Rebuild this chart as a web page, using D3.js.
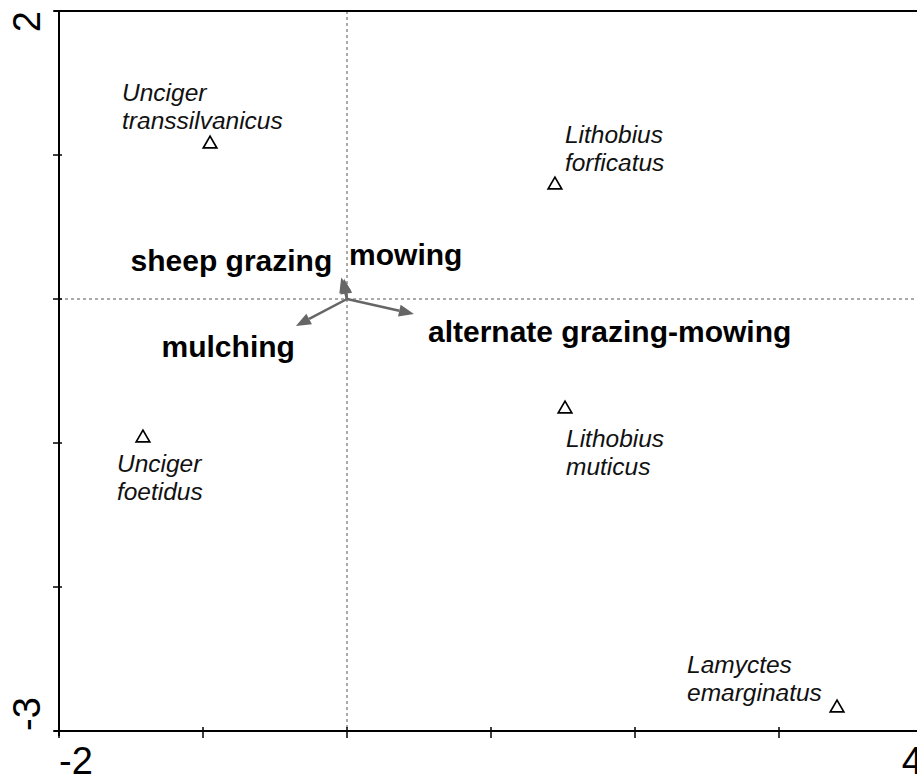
<!DOCTYPE html>
<html>
<head>
<meta charset="utf-8">
<script src="https://cdn.jsdelivr.net/npm/d3@7"></script>
<style>
  body { margin: 0; background: #fff; }
  svg { display: block; font-family: Arial, "Liberation Sans", sans-serif; }
</style>
</head>
<body>
<script>
// ordination diagram (species + treatment vectors)

var species = ["Unciger transsilvanicus", "Lithobius forficatus", "Lithobius muticus", "Unciger foetidus", "Lamyctes emarginatus"];
var speciesX = [-0.951, 1.444, 1.514, -1.417, 3.403];
var speciesY = [1.083, 0.799, -0.757, -0.958, -2.833];

var treatments = ["sheep grazing", "mowing", "mulching", "alternate grazing-mowing"];
var treatX = [-0.04, -0.02, -0.355, 0.465];
var treatY = [0.15, 0.14, -0.187, -0.104];

var xTicks = [-2, -1, 0, 1, 2, 3, 4];
var yTicks = [-3, -2, -1, 0, 1, 2];
var xTickLabels = ["-2", "4"];
var yTickLabels = ["-3", "2"];

// label placement (pixels from the mark)
var speciesLabelPos = [[-88, -42], [10, -41], [1, 39], [-26, 35], [-150, -34]];
var treatLabelPos = [[-9, -6, "end"], [5, -14, "start"], [-1, 31, "end"], [14, 28, "start"]];

var width = 917, height = 780;
var svg = d3.select("body").append("svg")
  .attr("width", width)
  .attr("height", height);

var x = d3.scaleLinear().domain([-2, 4]).range([59, 923]);
var y = d3.scaleLinear().domain([-3, 2]).range([731, 11]);

// dotted zero lines
svg.append("line")
  .attr("x1", x(0)).attr("x2", x(0))
  .attr("y1", y(2)).attr("y2", y(-3))
  .style("stroke", "#555").style("stroke-width", 1)
  .style("stroke-dasharray", "3,3");
svg.append("line")
  .attr("x1", x(-2)).attr("x2", x(4))
  .attr("y1", y(0)).attr("y2", y(0))
  .style("stroke", "#555").style("stroke-width", 1)
  .style("stroke-dasharray", "3,3");

// frame
svg.append("line")
  .attr("x1", x(-2) - 5).attr("x2", x(4))
  .attr("y1", y(2)).attr("y2", y(2))
  .style("stroke", "#000").style("stroke-width", 2);
svg.append("line")
  .attr("x1", x(-2)).attr("x2", x(-2))
  .attr("y1", y(2)).attr("y2", y(-3) + 5)
  .style("stroke", "#000").style("stroke-width", 2);
svg.append("line")
  .attr("x1", x(-2) - 5).attr("x2", x(4))
  .attr("y1", y(-3)).attr("y2", y(-3))
  .style("stroke", "#000").style("stroke-width", 2);

// ticks
svg.selectAll(".xtick").data(xTicks).enter().append("line")
  .attr("class", "xtick")
  .attr("x1", d => x(d)).attr("x2", d => x(d))
  .attr("y1", y(-3) - 4).attr("y2", y(-3) + 7)
  .style("stroke", "#000").style("stroke-width", 1.5);
svg.selectAll(".ytick").data(yTicks).enter().append("line")
  .attr("class", "ytick")
  .attr("x1", x(-2) - 6).attr("x2", x(-2) + 3)
  .attr("y1", d => y(d)).attr("y2", d => y(d))
  .style("stroke", "#000").style("stroke-width", 1.5);

// tick labels
svg.selectAll(".xlab").data(xTickLabels).enter().append("text")
  .attr("class", "xlab")
  .attr("x", d => x(+d))
  .attr("y", 774)
  .attr("text-anchor", (d, i) => i == 0 ? "start" : "end")
  .style("font-size", "38px")
  .text(d => d);
svg.selectAll(".ylab").data(yTickLabels).enter().append("text")
  .attr("class", "ylab")
  .attr("transform", d => "translate(40," + y(+d) + ") rotate(-90)")
  .attr("text-anchor", (d, i) => i == 0 ? "start" : "end")
  .style("font-size", "38px")
  .text(d => d);

// treatment vectors
var head = 15, half = 6;
treatments.forEach(function (t, i) {
  var x0 = x(0), y0 = y(0), x1 = x(treatX[i]), y1 = y(treatY[i]);
  var ang = Math.atan2(y1 - y0, x1 - x0);
  var bx = x1 - head * Math.cos(ang), by = y1 - head * Math.sin(ang);
  svg.append("line")
    .attr("x1", x0).attr("y1", y0).attr("x2", bx).attr("y2", by)
    .style("stroke", "#666").style("stroke-width", 2.5);
  var pts = [[x1, y1],
    [bx + half * Math.sin(ang), by - half * Math.cos(ang)],
    [bx - half * Math.sin(ang), by + half * Math.cos(ang)]];
  svg.append("polygon")
    .attr("points", pts.map(p => p.join(",")).join(" "))
    .style("fill", "#666");
  svg.append("text")
    .attr("x", x1 + treatLabelPos[i][0])
    .attr("y", y1 + treatLabelPos[i][1])
    .attr("text-anchor", treatLabelPos[i][2])
    .style("font-size", "30px")
    .style("font-weight", "bold")
    .text(t);
});

// species points
var tri = d3.symbol().type(d3.symbolTriangle).size(80);
svg.selectAll(".sp").data(species).enter().append("path")
  .attr("class", "sp")
  .attr("d", tri)
  .attr("transform", (d, i) => "translate(" + x(speciesX[i]) + "," + (y(speciesY[i]) + 1) + ")")
  .style("fill", "#fff")
  .style("stroke", "#000")
  .style("stroke-width", 1.7);

species.forEach(function (s, i) {
  var words = s.split(" ");
  var t = svg.append("text")
    .attr("x", x(speciesX[i]) + speciesLabelPos[i][0])
    .attr("y", y(speciesY[i]) + speciesLabelPos[i][1])
    .style("font-size", "24.5px")
    .style("font-style", "italic")
    .style("fill", "#111");
  words.forEach(function (w, j) {
    t.append("tspan")
      .attr("x", x(speciesX[i]) + speciesLabelPos[i][0])
      .attr("dy", j == 0 ? 0 : 28)
      .text(w);
  });
});
</script>
</body>
</html>
